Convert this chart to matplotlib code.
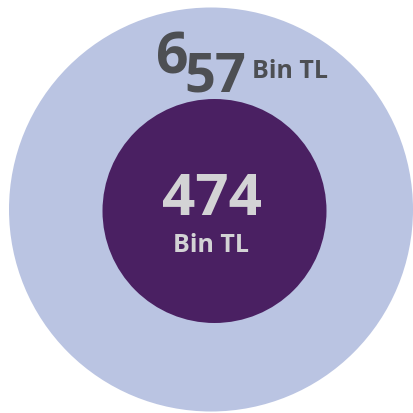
import matplotlib.pyplot as plt
from matplotlib.patches import Circle

# data
labels = ['outer', 'inner']
values = [657, 474]
unit = 'Bin TL'

# style
outer_color = '#BAC4E2'
inner_color = '#4A2062'
outer_text = '#4D4F53'
inner_text = '#D3D3D5'
radii = [202, 112]
centers = [(211, 209.5), (214.5, 211)]

plt.rcParams['font.family'] = ['Open Sans', 'DejaVu Sans']

fig = plt.figure(figsize=(4.14, 4.13), dpi=100)
ax = fig.add_axes([0, 0, 1, 1])
ax.set_xlim(0, 414)
ax.set_ylim(413, 0)
ax.set_aspect('equal')
ax.axis('off')

ax.add_patch(Circle(centers[0], radii[0], color=outer_color, lw=0))
ax.add_patch(Circle(centers[1], radii[1], color=inner_color, lw=0))

# big number on the outer ring, old-style look: first digit raised
s = str(values[0])
ax.text(156, 74, s[0], fontsize=41, fontweight='bold', color=outer_text, va='baseline', ha='left')
ax.text(184, 91, s[1:], fontsize=39, fontweight='bold', color=outer_text, va='baseline', ha='left')
ax.text(252, 78, unit, fontsize=18, fontweight='bold', color=outer_text, va='baseline', ha='left')

# inner circle
ax.text(211.5, 215, str(values[1]), fontsize=42, fontweight='bold', color=inner_text, va='baseline', ha='center')
ax.text(211.5, 252, unit, fontsize=18, fontweight='bold', color=inner_text, va='baseline', ha='center')

fig.savefig('out.png', dpi=100)
